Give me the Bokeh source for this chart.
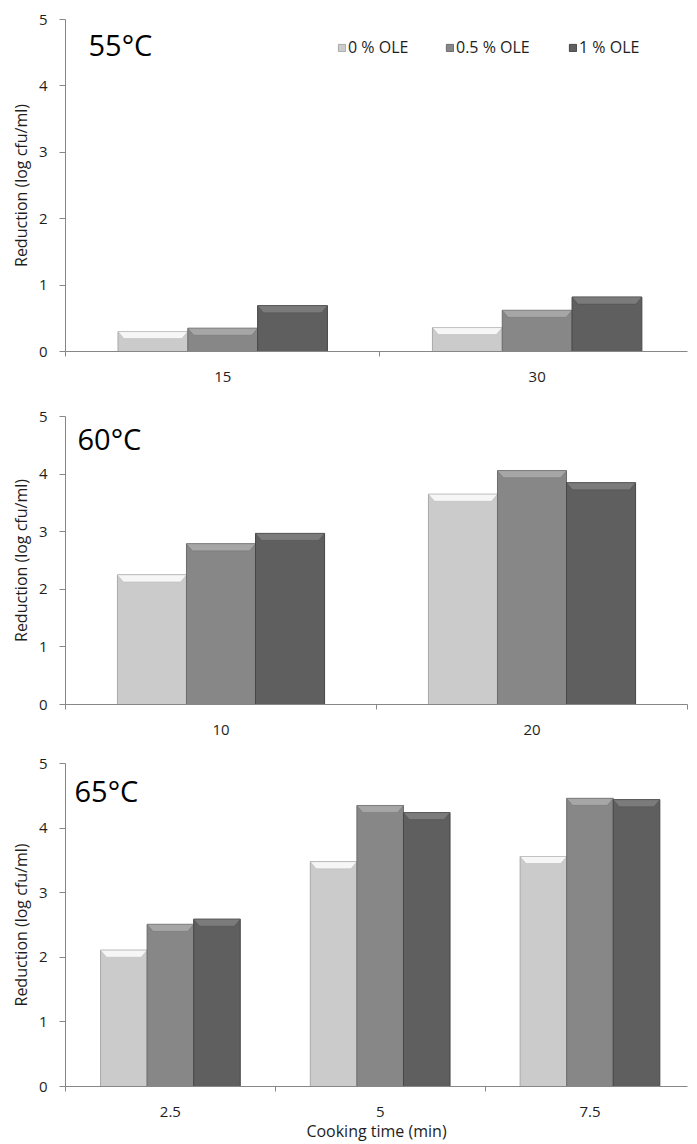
from bokeh.plotting import figure
from bokeh.layouts import column
from bokeh.models import FixedTicker, Label, Legend, LegendItem, Range1d
from bokeh.embed import file_html
from bokeh.resources import INLINE

# ---------------- data ----------------
series = ["0 % OLE", "0.5 % OLE", "1 % OLE"]
temps = ["55°C", "60°C", "65°C"]
y_ticks = [0, 1, 2, 3, 4, 5]

times_55 = ["15", "30"]
ole0_55 = [0.30, 0.36]
ole05_55 = [0.35, 0.62]
ole1_55 = [0.69, 0.82]

times_60 = ["10", "20"]
ole0_60 = [2.25, 3.65]
ole05_60 = [2.79, 4.06]
ole1_60 = [2.97, 3.85]

times_65 = ["2.5", "5", "7.5"]
ole0_65 = [2.11, 3.48, 3.56]
ole05_65 = [2.51, 4.35, 4.46]
ole1_65 = [2.59, 4.24, 4.44]

x_title = "Cooking time (min)"
y_title = "Reduction (log cfu/ml)"

# ---------------- style ----------------
FILLS = ["#cbcbcb", "#878787", "#5f5f5f"]
EDGES = ["#a9a9a9", "#6b6b6b", "#474747"]
BEVEL = ["#f6f6f6", "#a6a6a6", "#7b7b7b"]
AXIS = "#878787"
TXT = "#1e1e1e"
FONT = "Open Sans"
BW = 0.222


def make_panel(cats, vals, temp, x_end, width, height, bl, br, bt, bb,
               ppx, ppy, temp_pos, legend=False, xlabel=None):
    p = figure(width=width, height=height,
               x_range=Range1d(0, x_end), y_range=Range1d(0, 5),
               output_backend="svg", toolbar_location=None,
               min_border_left=bl, min_border_right=br,
               min_border_top=bt, min_border_bottom=bb)
    p.outline_line_color = None
    p.xgrid.visible = False
    p.ygrid.visible = False
    p.background_fill_color = "white"
    p.border_fill_color = "white"

    n = len(cats)
    centers = [i + 0.5 for i in range(n)]
    rends = []
    bev_h = 7.0 / ppy
    bev_dx = 6.0 / ppx
    for s in range(3):
        xs = [c + (s - 1) * BW for c in centers]
        r = p.vbar(x=xs, top=vals[s], bottom=0, width=BW,
                   fill_color=FILLS[s], line_color=EDGES[s], line_width=1)
        rends.append(r)
        pxs, pys = [], []
        for x, v in zip(xs, vals[s]):
            h = min(bev_h, v * 0.5)
            pxs.append([x - BW / 2, x + BW / 2, x + BW / 2 - bev_dx, x - BW / 2 + bev_dx])
            pys.append([v, v, v - h, v - h])
        p.patches(pxs, pys, fill_color=BEVEL[s], line_color=EDGES[s],
                  line_width=0.6, line_alpha=0.6)

    # x axis: labels at category centres, ticks at boundaries
    xa = p.xaxis[0]
    xa.ticker = FixedTicker(ticks=centers, minor_ticks=list(range(n + 1)))
    xa.major_label_overrides = {c: lab for c, lab in zip(centers, cats)}
    xa.major_tick_line_color = None
    xa.major_tick_out = 0
    xa.major_tick_in = 0
    xa.minor_tick_line_color = AXIS
    xa.minor_tick_out = 5
    xa.minor_tick_in = 0
    xa.axis_line_color = AXIS
    xa.major_label_standoff = 15
    xa.major_label_text_font = FONT
    xa.major_label_text_font_size = "15px"
    xa.major_label_text_color = TXT
    if xlabel:
        xa.axis_label = xlabel
        xa.axis_label_text_font = FONT
        xa.axis_label_text_font_style = "normal"
        xa.axis_label_text_font_size = "16px"
        xa.axis_label_text_color = TXT
        xa.axis_label_standoff = 0

    ya = p.yaxis[0]
    ya.ticker = FixedTicker(ticks=y_ticks)
    ya.minor_tick_line_color = None
    ya.major_tick_line_color = AXIS
    ya.major_tick_out = 6
    ya.major_tick_in = 0
    ya.axis_line_color = AXIS
    ya.major_label_standoff = 12
    ya.major_label_text_font = FONT
    ya.major_label_text_font_size = "15px"
    ya.major_label_text_color = TXT
    ya.axis_label = y_title
    ya.axis_label_text_font = FONT
    ya.axis_label_text_font_style = "normal"
    ya.axis_label_text_font_size = "16px"
    ya.axis_label_text_color = TXT
    ya.axis_label_standoff = 4

    p.add_layout(Label(x=temp_pos[0], y=temp_pos[1], x_units="screen", y_units="screen",
                       text=temp, text_font=FONT, text_font_size="29px",
                       text_color="#000000", text_baseline="alphabetic"))

    if legend:
        locs = [272, 380, 503]
        for s in range(3):
            lg = Legend(items=[LegendItem(label=series[s], renderers=[rends[s]])],
                        location=(locs[s], 293), orientation="horizontal",
                        glyph_width=9, glyph_height=9, label_standoff=2,
                        padding=0, margin=0, spacing=0,
                        border_line_color=None, background_fill_alpha=0,
                        label_text_font=FONT, label_text_font_size="16px",
                        label_text_color=TXT, label_height=12)
            p.add_layout(lg)
    return p


p1 = make_panel(times_55, [ole0_55, ole05_55, ole1_55], temps[0],
                x_end=633 / 320, width=697, height=395, bl=64, br=0, bt=19, bb=44,
                ppx=320, ppy=332 / 5, temp_pos=(23, 307), legend=True)
p2 = make_panel(times_60, [ole0_60, ole05_60, ole1_60], temps[1],
                x_end=2, width=697, height=355, bl=65, br=10, bt=21, bb=46,
                ppx=311, ppy=288 / 5, temp_pos=(12, 266))
p3 = make_panel(times_65, [ole0_65, ole05_65, ole1_65], temps[2],
                x_end=633 / 213.5, width=697, height=394, bl=64, br=0, bt=13, bb=57,
                ppx=213.5, ppy=324 / 5, temp_pos=(9, 296), xlabel=x_title)

layout = column(p1, p2, p3, spacing=0)
open("out.html", "w").write(file_html(layout, INLINE))
